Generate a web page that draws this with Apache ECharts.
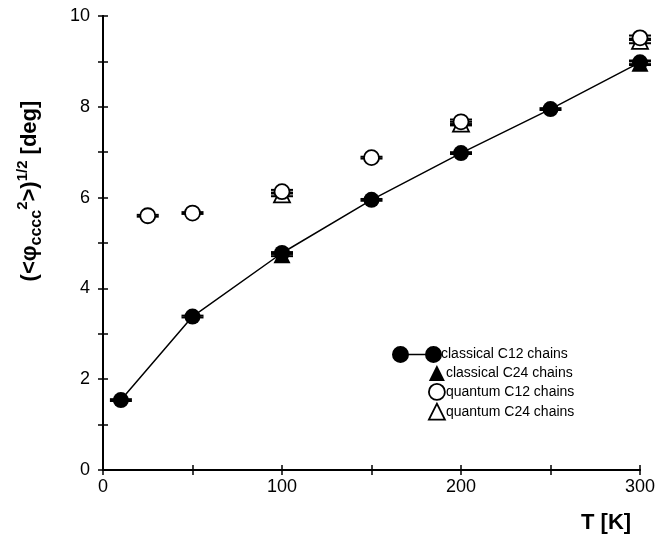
<!DOCTYPE html>
<html><head><meta charset="utf-8">
<script src="https://cdn.jsdelivr.net/npm/echarts@6/dist/echarts.min.js"></script>
<style>html,body{margin:0;padding:0;background:#fff}#c{width:660px;height:540px}</style>
</head><body><div id="c"></div>
<script>
// ---- data ----
const tempClassicalC12 = [10, 50, 100, 150, 200, 250, 300];
const classicalC12 = [1.54, 3.38, 4.78, 5.95, 6.98, 7.95, 8.98];
const classicalC12Err = [0.02, 0.02, 0.02, 0.02, 0.02, 0.02, 0.04];
const tempClassicalC24 = [100, 300];
const classicalC24 = [4.74, 8.96];
const classicalC24Err = [0.03, 0.04];
const tempQuantumC12 = [25, 50, 100, 150, 200, 300];
const quantumC12 = [5.60, 5.66, 6.13, 6.88, 7.67, 9.52];
const quantumC12Err = [0.02, 0.02, 0.04, 0.02, 0.05, 0.05];
const tempQuantumC24 = [100, 200, 300];
const quantumC24 = [6.07, 7.63, 9.45];
const quantumC24Err = [0.04, 0.04, 0.05];
const xTickLabels = [0, 100, 200, 300];
const yTickLabels = [0, 2, 4, 6, 8, 10];
const seriesNames = ['classical C12 chains', 'classical C24 chains', 'quantum C12 chains', 'quantum C24 chains'];

const FONT = '"Liberation Sans", Arial, Helvetica, sans-serif';
const zip = (xs, ys, es) => xs.map((x, i) => es ? [x, ys[i], es[i]] : [x, ys[i]]);

function errRender(params, api) {
  const x = api.value(0), y = api.value(1), e = api.value(2);
  const p1 = api.coord([x, y + e]), p2 = api.coord([x, y - e]);
  const half = 11;
  const st = { stroke: '#000', lineWidth: 2 };
  return { type: 'group', children: [
    { type: 'line', shape: { x1: p1[0] - half, y1: p1[1], x2: p1[0] + half, y2: p1[1] }, style: st },
    { type: 'line', shape: { x1: p2[0] - half, y1: p2[1], x2: p2[0] + half, y2: p2[1] }, style: st }
  ]};
}
function errSeries(xs, ys, es, z) {
  return { type: 'custom', renderItem: errRender, data: zip(xs, ys, es), z: z, silent: true,
    encode: { x: 0, y: 1 }, tooltip: { show: false } };
}

const axisLine = { show: true, lineStyle: { color: '#000', width: 2 } };
const axisTick = { show: true, inside: true, length: 5, lineStyle: { color: '#000', width: 1.5 } };

const chart = echarts.init(document.getElementById('c'), null, { renderer: 'canvas' });
chart.setOption({
  animation: false,
  backgroundColor: '#fff',
  grid: { left: 103, right: 20, top: 16, bottom: 70, containLabel: false },
  xAxis: [
    { type: 'value', min: 0, max: 300, interval: 50, position: 'bottom',
      axisLine, axisTick, splitLine: { show: false },
      axisLabel: { color: '#000', fontSize: 18, fontFamily: FONT, margin: 8,
        formatter: v => xTickLabels.includes(v) ? String(v) : '' } },
    { type: 'value', min: 0, max: 300, interval: 50, position: 'top',
      axisLine, axisTick, splitLine: { show: false }, axisLabel: { show: false } }
  ],
  yAxis: [
    { type: 'value', min: 0, max: 10, interval: 1, position: 'left',
      axisLine, axisTick, splitLine: { show: false },
      axisLabel: { color: '#000', fontSize: 18, fontFamily: FONT, margin: 13,
        formatter: v => yTickLabels.includes(v) ? String(v) : '' } },
    { type: 'value', min: 0, max: 10, interval: 1, position: 'right',
      axisLine, axisTick, splitLine: { show: false }, axisLabel: { show: false } }
  ],
  legend: [
    { left: 392, top: 346, padding: 0, itemWidth: 50, itemHeight: 17,
      textStyle: { color: '#000', fontSize: 14, fontFamily: FONT, padding: [0, 0, 0, -6] },
      data: [{ name: seriesNames[0],
        icon: 'path://M0,8.5 A8.5,8.5 0 1,1 17,8.5 A8.5,8.5 0 1,1 0,8.5 Z M16,7.8 L34,7.8 L34,9.2 L16,9.2 Z M33,8.5 A8.5,8.5 0 1,1 50,8.5 A8.5,8.5 0 1,1 33,8.5 Z',
        itemStyle: { color: '#000' } }] },
    { left: 428, top: 365, padding: 0, orient: 'vertical', itemGap: 2, itemWidth: 16, itemHeight: 16,
      textStyle: { color: '#000', fontSize: 14, fontFamily: FONT, padding: [0, 0, 0, -4] },
      data: [
        { name: seriesNames[1], icon: 'triangle', itemStyle: { color: '#000' } },
        { name: seriesNames[2], icon: 'circle', itemStyle: { color: '#fff', borderColor: '#000', borderWidth: 1.8 } },
        { name: seriesNames[3], icon: 'triangle', itemStyle: { color: '#fff', borderColor: '#000', borderWidth: 1.8 } }
      ] }
  ],
  series: [
    errSeries(tempClassicalC24, classicalC24, classicalC24Err, 2),
    { name: seriesNames[1], type: 'scatter', data: zip(tempClassicalC24, classicalC24),
      symbol: 'triangle', symbolSize: 17, itemStyle: { color: '#000', opacity: 1 }, z: 3 },
    errSeries(tempClassicalC12, classicalC12, classicalC12Err, 4),
    { name: seriesNames[0], type: 'line', data: zip(tempClassicalC12, classicalC12),
      symbol: 'circle', symbolSize: 16, showAllSymbol: true,
      lineStyle: { color: '#000', width: 1.5 }, itemStyle: { color: '#000', opacity: 1 }, z: 5 },
    errSeries(tempQuantumC24, quantumC24, quantumC24Err, 6),
    { name: seriesNames[3], type: 'scatter', data: zip(tempQuantumC24, quantumC24),
      symbol: 'triangle', symbolSize: 16,
      itemStyle: { color: '#fff', borderColor: '#000', borderWidth: 1.8, opacity: 1 }, z: 7 },
    errSeries(tempQuantumC12, quantumC12, quantumC12Err, 8),
    { name: seriesNames[2], type: 'scatter', data: zip(tempQuantumC12, quantumC12),
      symbol: 'circle', symbolSize: 15,
      itemStyle: { color: '#fff', borderColor: '#000', borderWidth: 1.8, opacity: 1 }, z: 9 }
  ],
  graphic: [
    { type: 'text', left: 581, top: 512,
      style: { text: 'T [K]', font: 'bold 22px ' + FONT, fill: '#000' } },
    { type: 'text', x: 30, y: 191, rotation: Math.PI / 2,
      style: {
        text: '{a|(<φ}{s|cccc}{p|2}{a|>)}{p|1/2}{a| [deg]}',
        align: 'center', verticalAlign: 'middle', fill: '#000',
        rich: {
          a: { fontSize: 22, fontWeight: 'bold', fontFamily: FONT, lineHeight: 30, fill: '#000' },
          s: { fontSize: 16, fontWeight: 'bold', fontFamily: FONT, lineHeight: 14, verticalAlign: 'bottom', fill: '#000' },
          p: { fontSize: 15, fontWeight: 'bold', fontFamily: FONT, lineHeight: 14, verticalAlign: 'top', fill: '#000' }
        }
      } }
  ]
});
</script></body></html>
